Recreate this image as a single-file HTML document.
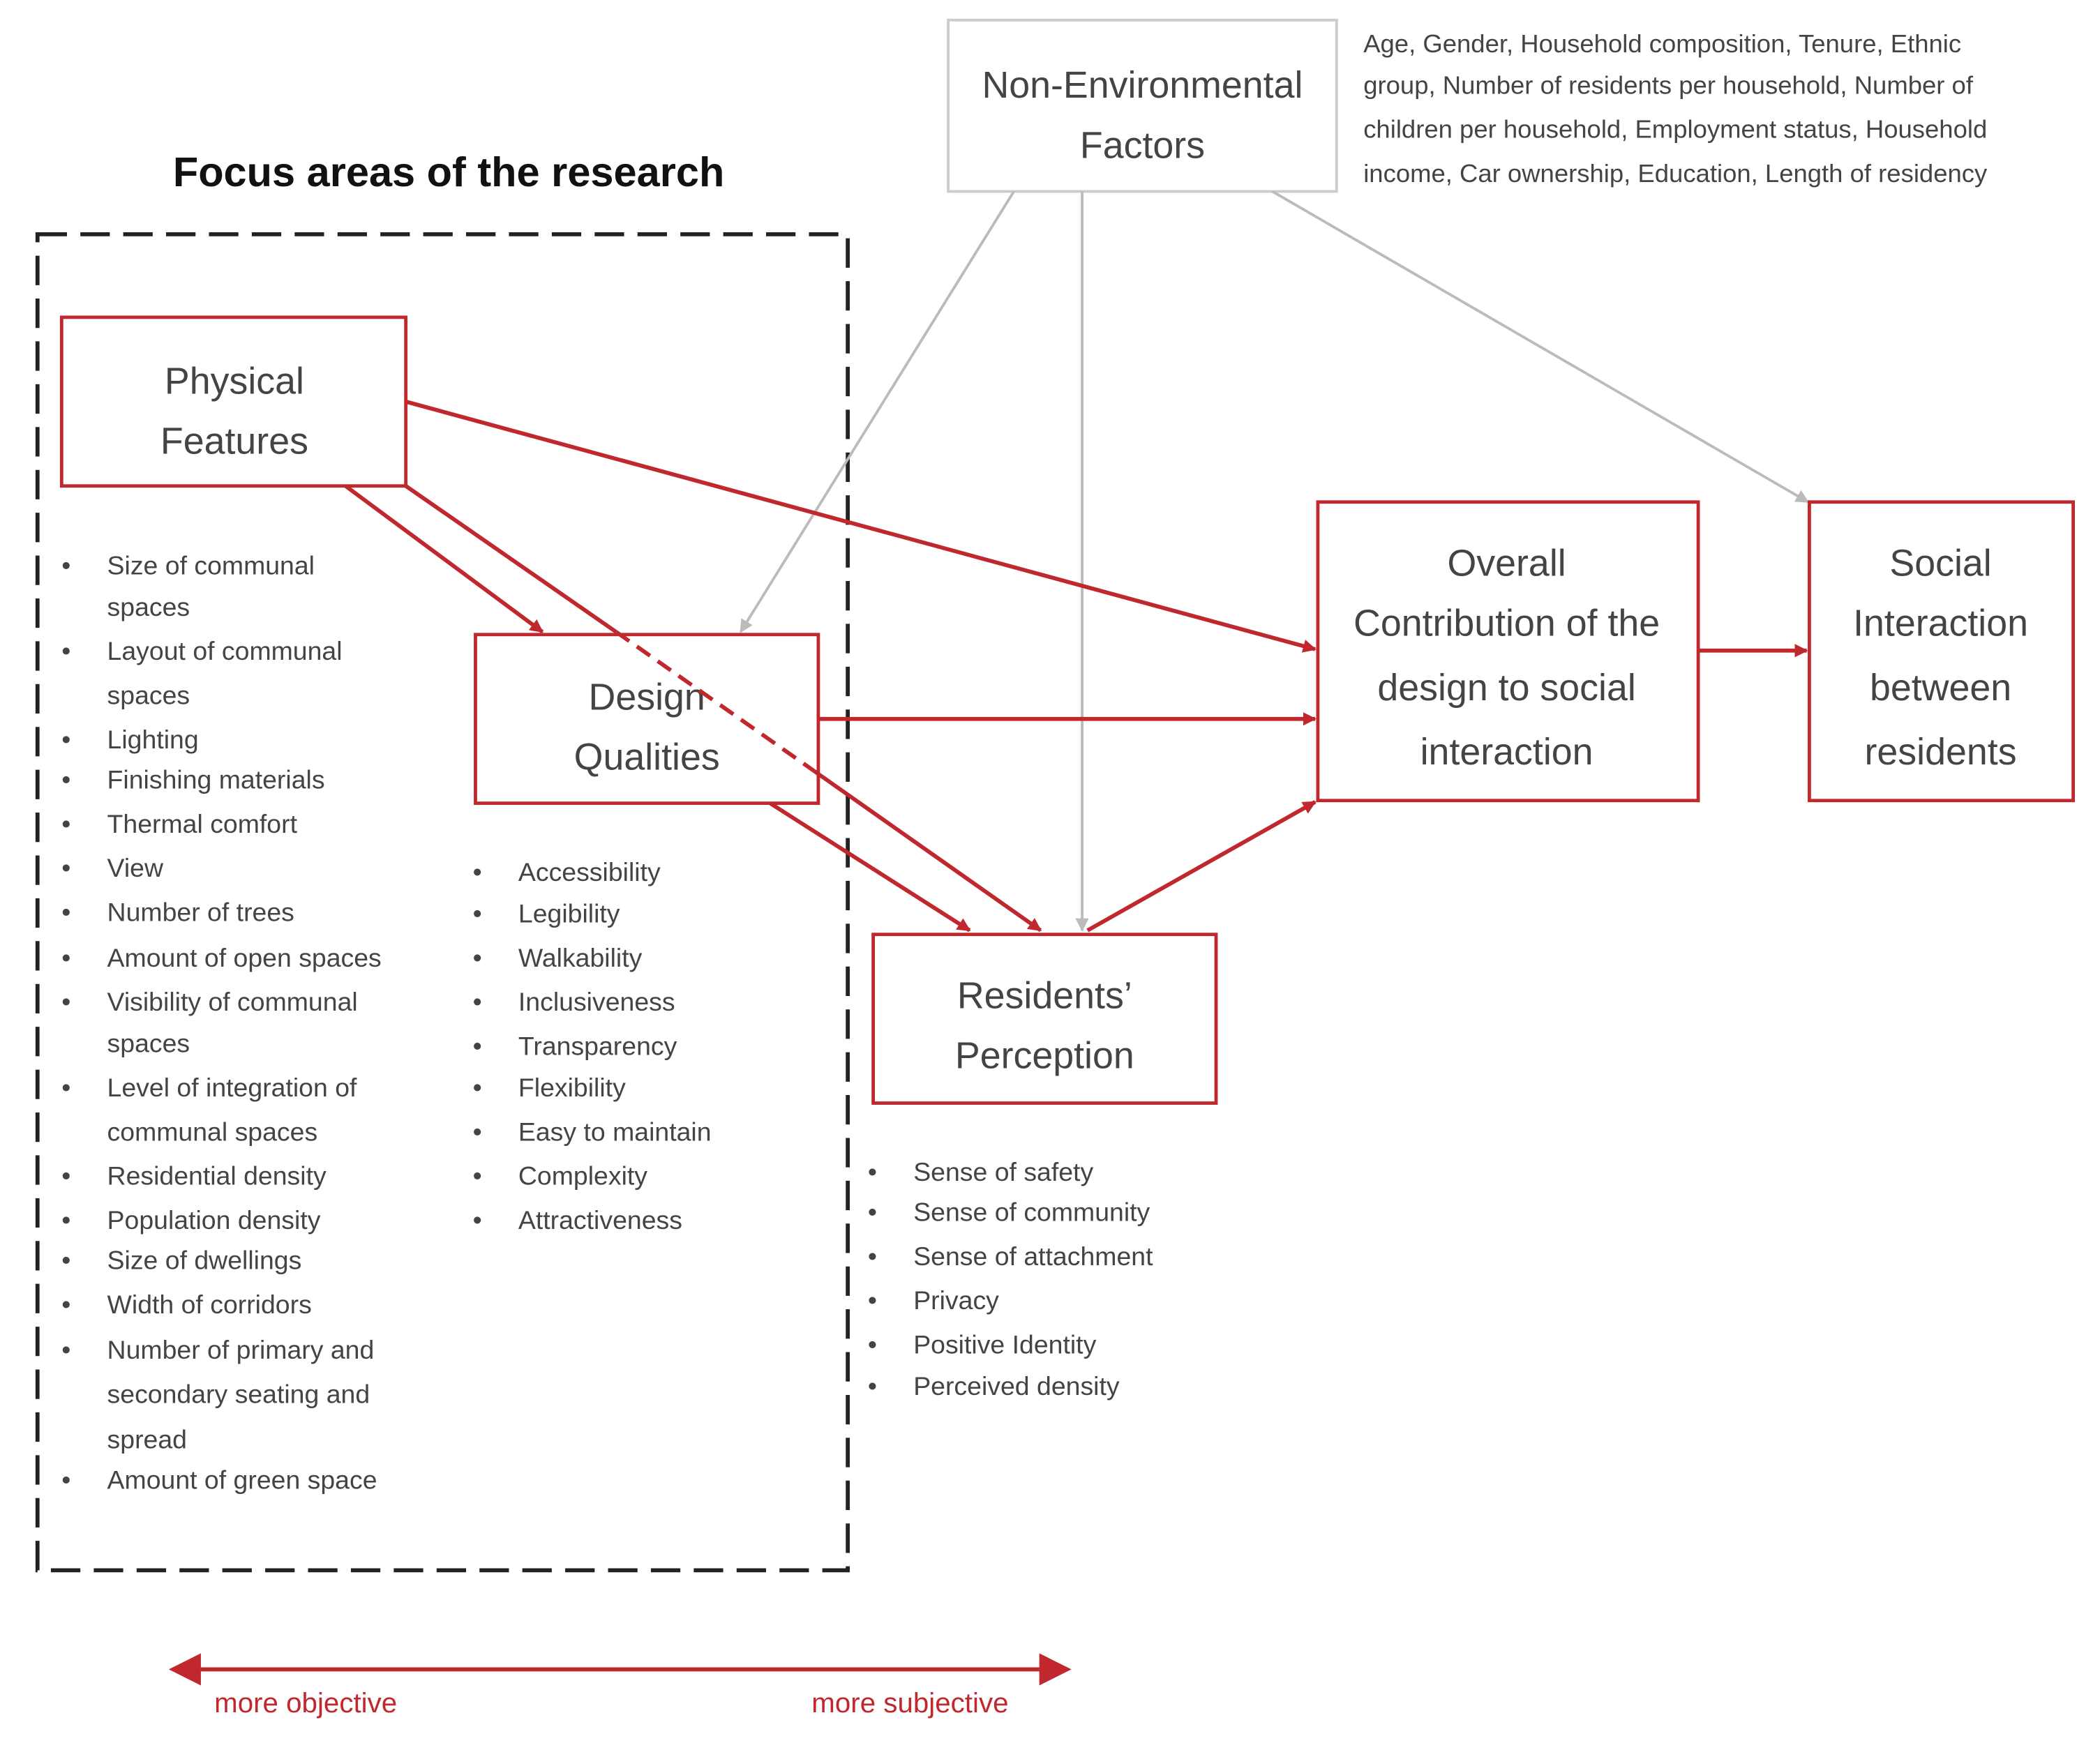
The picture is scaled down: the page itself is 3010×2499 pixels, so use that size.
<!DOCTYPE html>
<html><head><meta charset="utf-8"><style>
html,body{margin:0;padding:0;background:#fff;}
svg{display:block;}
text{font-family:"Liberation Sans",sans-serif;fill:#444;}
</style></head><body>
<svg width="3010" height="2499" viewBox="0 0 1568 1302" preserveAspectRatio="none" xmlns="http://www.w3.org/2000/svg">
<defs>
<marker id="ar" markerWidth="10" markerHeight="10" refX="9" refY="5" orient="auto" markerUnits="userSpaceOnUse"><path d="M0,0 L10,5 L0,10 z" fill="#c0282d"/></marker>
<marker id="ag" markerWidth="10" markerHeight="10" refX="9" refY="5" orient="auto" markerUnits="userSpaceOnUse"><path d="M0,0 L10,5 L0,10 z" fill="#bbb"/></marker>
</defs>
<rect x="708" y="15" width="290" height="128" fill="#fff" stroke="#ccc" stroke-width="2"/>
<text x="853" y="73" font-size="28" text-anchor="middle">Non-Environmental</text>
<text x="853" y="118" font-size="28" text-anchor="middle">Factors</text>
<g font-size="19">
<text x="1018" y="39">Age, Gender, Household composition, Tenure, Ethnic</text>
<text x="1018" y="70">group, Number of residents per household, Number of</text>
<text x="1018" y="103">children per household, Employment status, Household</text>
<text x="1018" y="136">income, Car ownership, Education, Length of residency</text>
</g>
<text x="335" y="139" font-size="31" font-weight="bold" text-anchor="middle" style="fill:#111">Focus areas of the research</text>
<rect x="28" y="175" width="605" height="998" fill="none" stroke="#222" stroke-width="3" stroke-dasharray="22,10"/>
<g stroke="#bbb" stroke-width="2" fill="none">
<line x1="757" y1="143" x2="553" y2="472" marker-end="url(#ag)"/>
<line x1="808" y1="143" x2="808" y2="695" marker-end="url(#ag)"/>
<line x1="950" y1="143" x2="1350" y2="375" marker-end="url(#ag)"/>
</g>
<g fill="#fff" stroke="#c0282d" stroke-width="2.5">
<rect x="46" y="237" width="257" height="126"/>
<rect x="355" y="474" width="256" height="126"/>
<rect x="652" y="698" width="256" height="126"/>
<rect x="984" y="375" width="284" height="223"/>
<rect x="1351" y="375" width="197" height="223"/>
</g>
<g font-size="28" text-anchor="middle">
<text x="175" y="294">Physical</text><text x="175" y="339">Features</text>
<text x="483" y="530">Design</text><text x="483" y="575">Qualities</text>
<text x="780" y="753">Residents’</text><text x="780" y="798">Perception</text>
<text x="1125" y="430">Overall</text><text x="1125" y="475">Contribution of the</text><text x="1125" y="523">design to social</text><text x="1125" y="571">interaction</text>
<text x="1449" y="430">Social</text><text x="1449" y="475">Interaction</text><text x="1449" y="523">between</text><text x="1449" y="571">residents</text>
</g>
<g stroke="#c0282d" stroke-width="3" fill="none">
<line x1="303" y1="300" x2="982" y2="485" marker-end="url(#ar)"/>
<line x1="258" y1="363" x2="405" y2="472" marker-end="url(#ar)"/>
<line x1="303" y1="363" x2="460" y2="472"/>
<line x1="460" y1="472" x2="608" y2="576" stroke-dasharray="12,7"/>
<line x1="608" y1="576" x2="777" y2="695" marker-end="url(#ar)"/>
<line x1="611" y1="537" x2="982" y2="537" marker-end="url(#ar)"/>
<line x1="575" y1="600" x2="724" y2="695" marker-end="url(#ar)"/>
<line x1="812" y1="695" x2="982" y2="599" marker-end="url(#ar)"/>
<line x1="1268" y1="486" x2="1349" y2="486" marker-end="url(#ar)"/>
</g>
<g font-size="19.5">
<g>
<text x="46" y="429">•</text><text x="80" y="429">Size of communal</text>
<text x="80" y="460">spaces</text>
<text x="46" y="493">•</text><text x="80" y="493">Layout of communal</text>
<text x="80" y="526">spaces</text>
<text x="46" y="559">•</text><text x="80" y="559">Lighting</text>
<text x="46" y="589">•</text><text x="80" y="589">Finishing materials</text>
<text x="46" y="622">•</text><text x="80" y="622">Thermal comfort</text>
<text x="46" y="655">•</text><text x="80" y="655">View</text>
<text x="46" y="688">•</text><text x="80" y="688">Number of trees</text>
<text x="46" y="722">•</text><text x="80" y="722">Amount of open spaces</text>
<text x="46" y="755">•</text><text x="80" y="755">Visibility of communal</text>
<text x="80" y="786">spaces</text>
<text x="46" y="819">•</text><text x="80" y="819">Level of integration of</text>
<text x="80" y="852">communal spaces</text>
<text x="46" y="885">•</text><text x="80" y="885">Residential density</text>
<text x="46" y="918">•</text><text x="80" y="918">Population density</text>
<text x="46" y="948">•</text><text x="80" y="948">Size of dwellings</text>
<text x="46" y="981">•</text><text x="80" y="981">Width of corridors</text>
<text x="46" y="1015">•</text><text x="80" y="1015">Number of primary and</text>
<text x="80" y="1048">secondary seating and</text>
<text x="80" y="1082">spread</text>
<text x="46" y="1112">•</text><text x="80" y="1112">Amount of green space</text>
</g>
<g>
<text x="353" y="658">•</text><text x="387" y="658">Accessibility</text>
<text x="353" y="689">•</text><text x="387" y="689">Legibility</text>
<text x="353" y="722">•</text><text x="387" y="722">Walkability</text>
<text x="353" y="755">•</text><text x="387" y="755">Inclusiveness</text>
<text x="353" y="788">•</text><text x="387" y="788">Transparency</text>
<text x="353" y="819">•</text><text x="387" y="819">Flexibility</text>
<text x="353" y="852">•</text><text x="387" y="852">Easy to maintain</text>
<text x="353" y="885">•</text><text x="387" y="885">Complexity</text>
<text x="353" y="918">•</text><text x="387" y="918">Attractiveness</text>
</g>
<g>
<text x="648" y="882">•</text><text x="682" y="882">Sense of safety</text>
<text x="648" y="912">•</text><text x="682" y="912">Sense of community</text>
<text x="648" y="945">•</text><text x="682" y="945">Sense of attachment</text>
<text x="648" y="978">•</text><text x="682" y="978">Privacy</text>
<text x="648" y="1011">•</text><text x="682" y="1011">Positive Identity</text>
<text x="648" y="1042">•</text><text x="682" y="1042">Perceived density</text>
</g>
</g>
<line x1="140" y1="1247" x2="785" y2="1247" stroke="#c0282d" stroke-width="3"/>
<path d="M126,1247 L150,1235 L150,1259 z" fill="#c0282d"/>
<path d="M800,1247 L776,1235 L776,1259 z" fill="#c0282d"/>
<text x="160" y="1279" font-size="21" style="fill:#c0282d">more objective</text>
<text x="606" y="1279" font-size="21" style="fill:#c0282d">more subjective</text>
</svg>
</body></html>
